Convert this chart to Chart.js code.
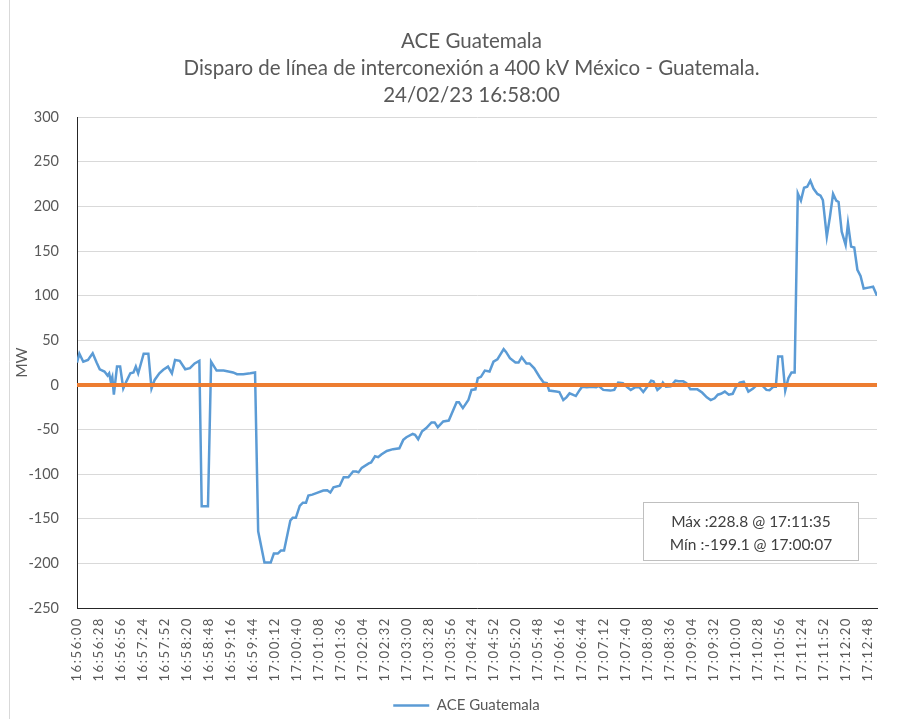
<!DOCTYPE html>
<html><head><meta charset="utf-8">
<script src="https://cdn.jsdelivr.net/npm/chart.js@4.4.1/dist/chart.umd.min.js"></script>
<style>
html,body{margin:0;padding:0;background:#fff;overflow:hidden;width:904px;height:719px}
#wrap{position:absolute;left:0;top:0;width:943px;height:723px}
</style>
</head><body><div id="wrap"><canvas id="c" width="943" height="723"></canvas></div>
<script>
// ---- data ----
const titleLines = ['ACE Guatemala', 'Disparo de línea de interconexión a 400 kV México - Guatemala.', '24/02/23 16:58:00'];
const seriesName = 'ACE Guatemala';
const yAxisTitle = 'MW';
const startTime = '16:56:00';
const endTime = '17:13:00';
const tickLabels = ['16:56:00','16:56:28','16:56:56','16:57:24','16:57:52','16:58:20','16:58:48','16:59:16','16:59:44',
  '17:00:12','17:00:40','17:01:08','17:01:36','17:02:04','17:02:32','17:03:00','17:03:28','17:03:56','17:04:24',
  '17:04:52','17:05:20','17:05:48','17:06:16','17:06:44','17:07:12','17:07:40','17:08:08','17:08:36','17:09:04',
  '17:09:32','17:10:00','17:10:28','17:10:56','17:11:24','17:11:52','17:12:20','17:12:48'];
const yMin = -250, yMax = 300, yStep = 50;
// seconds after 16:56:00
const tSec = [0,3,8,14,20,25,29,35,39,41,43,45,47,51,55,59,63,68,72,75,78,85,91,95,99,105,110,116,121,125,131,138,144,150,156,
  159,167,171,178,187,199,204,212,221,227,231,239,247,251,256,260,264,272,275,279,284,288,292,295,300,306,314,319,323,327,335,
  340,346,352,356,359,363,372,375,380,384,388,395,403,411,416,420,428,431,435,440,445,452,456,460,467,474,484,487,492,499,503,
  508,511,515,520,526,531,536,544,547,552,559,563,567,573,577,583,590,595,599,602,611,615,620,624,628,632,636,641,644,650,656,
  662,665,671,680,685,690,696,701,706,712,717,722,727,732,735,740,744,747,751,757,763,767,773,777,782,791,797,803,808,813,817,
  821,826,831,836,840,845,850,856,862,867,873,879,883,888,891,894,899,903,907,911,915,919,923,927,931,935,939,944,948,951,956,
  960,964,968,971,975,980,983,987,991,995,999,1003,1009,1015,1020];
const mw = [25,35,26,28,35.5,25,17.5,15,10.5,13,4,9,-11,20.5,20.5,-4,4,13,14,20.5,13,35,35,-4,5.6,13,17,20.5,13,28,27,17.5,18.7,24,27,
  -136,-136,26,16,16,14,12,12,13,14,-164,-199,-199.1,-189,-189,-185.6,-185.6,-152,-149,-149,-135.5,-132,-132,-124,-123,-121,-118.4,-118,-120.6,-114.7,-113,
  -103.5,-103.5,-97,-97,-98,-93,-88,-87,-80,-81,-78,-74,-72,-71,-61.6,-58.6,-55,-56,-61,-52,-48.6,-42,-42,-47.4,-41,-40,-19.4,-19.4,-26,-17,-5.6,
  -5,7.5,9,16,15,26,28.6,40,37,30,25,25,31,24,24,18.6,8.6,2.6,2,-6.4,-7.5,-8,-17,-14,-9.5,-11,-12.5,-5.6,-2,-2.5,-2,
  -2.5,-1,-5.6,-6.4,-5.6,2.6,2,-2,-5.6,-2.6,-2.6,-8,-2,4.7,4,-5.6,-2.6,2.6,-2,-1.5,4.7,4,4,2,-5,-5,-8.6,-14,-17,-15,-11,
  -10,-7.5,-11,-10,-2.6,2.6,3.7,-7.5,-4,0,0,-5.6,-6,-2,-2,31.7,31.7,-6.4,7.5,14,14,214.7,206.5,221,222,228.8,220,214,212,207,166,
  188.5,214,206.5,205,171.7,156.8,181,155,154,129,122,108,109,110,100];
const zeroLineMW = [0, 0];
const statsText = ['Máx :228.8 @ 17:11:35', 'Mín :-199.1 @ 17:00:07'];

// ---- helpers ----
function toSec(s){const p=s.split(':').map(Number);return p[0]*3600+p[1]*60+p[2];}
const t0 = toSec(startTime), tEnd = toSec(endTime) - t0;
const seriesPts = tSec.map((t,i)=>({x:t,y:mw[i]}));
const zeroPts = [{x:0,y:zeroLineMW[0]},{x:tEnd,y:zeroLineMW[1]}];
const tickVals = tickLabels.map(l=>toSec(l)-t0);

const FONT = 'Lato';
const GREY = '#595959';

const xSpacingPlugin = {
  id:'xspacing',
  afterUpdate(chart){
    const s = chart.scales.x;
    if (s && !s._patched){
      const orig = s.drawLabels;
      s.drawLabels = function(area){ const ctx=this.ctx; ctx.save(); ctx.letterSpacing='1.6px'; orig.call(this, area); ctx.restore(); };
      s._patched = true;
    }
  }
};

const shiftPlugin = {
  id:'shift',
  afterLayout(chart){
    const t = chart.titleBlock; if (t){ t.left += 33; t.right += 33; }
    const l = chart.legend; if (l){ l.left += 28; l.right += 28; }
  }
};

const framePlugin = {
  id:'frame',
  beforeDraw(chart){
    const ctx = chart.ctx;
    ctx.save();
    ctx.fillStyle='#fff'; ctx.fillRect(0,0,chart.width,chart.height);
    ctx.strokeStyle='#d9d9d9'; ctx.lineWidth=1;
    ctx.beginPath(); ctx.moveTo(9.5,0); ctx.lineTo(9.5,chart.height); ctx.stroke();
    ctx.restore();
  },
  afterDatasetsDraw(chart){
    const ctx = chart.ctx, ca = chart.chartArea;
    const w = ca.right-ca.left, h = ca.bottom-ca.top;
    const bx = Math.round(ca.left + w*0.7075)+0.5, by = Math.round(ca.top + h*0.784)+0.5;
    const bw = 215, bh = 58;
    ctx.save();
    ctx.fillStyle='#fff'; ctx.fillRect(bx,by,bw,bh);
    ctx.strokeStyle='#bfbfbf'; ctx.lineWidth=1; ctx.strokeRect(bx,by,bw,bh);
    ctx.fillStyle='#404040'; ctx.font='15.5px '+FONT; ctx.textAlign='center'; ctx.textBaseline='middle';
    ctx.fillText(statsText[0], bx+bw/2, by+19.5);
    ctx.fillText(statsText[1], bx+bw/2, by+42.5);
    ctx.restore();
  }
};

new Chart(document.getElementById('c'), {
  type:'line',
  data:{ datasets:[
    {label:seriesName, data:seriesPts, borderColor:'#5B9BD5', backgroundColor:'#5B9BD5', borderWidth:2.5,
     pointRadius:0, tension:0, fill:false, order:1, pointStyle:'line'},
    {label:'cero', data:zeroPts, borderColor:'#ED7D31', backgroundColor:'#ED7D31', borderWidth:4,
     pointRadius:0, tension:0, fill:false, order:0}
  ]},
  options:{
    responsive:false, animation:false, devicePixelRatio:1,
    layout:{padding:{left:0,right:66,top:0,bottom:0}},
    plugins:{
      title:{display:true, text:titleLines, color:GREY, font:{family:FONT,size:20.5,weight:'normal',lineHeight:1.32},
        padding:{top:28,bottom:8}},
      legend:{position:'bottom', labels:{filter:(it)=>it.text===seriesName, usePointStyle:true, pointStyle:'line',
        pointStyleWidth:36, color:GREY, font:{family:FONT,size:15}, padding:10}},
      tooltip:{enabled:false}
    },
    scales:{
      x:{type:'linear', min:0, max:tEnd,
        afterBuildTicks:(s)=>{ s.ticks = tickVals.map(v=>({value:v})); },
        afterFit:(s)=>{ s.height = 80; },
        ticks:{autoSkip:false, minRotation:90, maxRotation:90, padding:9, color:GREY, font:{family:FONT,size:13},
          callback:(v,i)=>tickLabels[i]},
        grid:{display:false, drawTicks:false},
        border:{display:true, color:'#262626', width:1}
      },
      y:{min:yMin, max:yMax,
        afterFit:(s)=>{ s.width = 77; },
        ticks:{stepSize:yStep, padding:18, color:GREY, font:{family:FONT,size:14.5}},
        grid:{color:'#d9d9d9', drawTicks:false, lineWidth:1},
        border:{display:true, color:'#262626', width:1},
        title:{display:true, text:yAxisTitle, color:GREY, font:{family:FONT,size:15.5}, padding:{top:13,bottom:0}}
      }
    }
  },
  plugins:[xSpacingPlugin, shiftPlugin, framePlugin]
});
</script>
</body></html>
